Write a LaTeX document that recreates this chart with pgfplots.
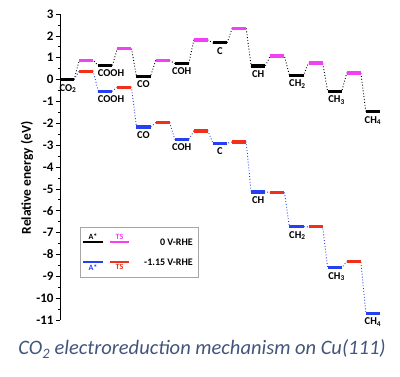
\documentclass[border=0pt]{standalone}
\usepackage{pgfplots}
\pgfplotsset{compat=1.18}
\usepackage{fontspec}
\setmainfont{Carlito}
\definecolor{tsPink}{HTML}{F440F4}
\definecolor{aBlue}{HTML}{2440F0}
\definecolor{tsRed}{HTML}{F03018}
\definecolor{capCol}{HTML}{42557A}
\newcommand{\lbl}{\bfseries\fontsize{10.5}{11}\selectfont}
\begin{document}
\begin{tikzpicture}[x=1pt,y=1pt]
\path (-60,-56) rectangle (340,320);
\begin{axis}[
  at={(0,0)}, anchor=south west,
  scale only axis, width=320pt, height=306pt,
  xmin=-0.37, xmax=16.37, ymin=-11, ymax=3,
  axis x line=none, axis y line*=left,
  y axis line style={-, line width=0.6pt},
  clip=false,
  ytick={-11,-10,-9,-8,-7,-6,-5,-4,-3,-2,-1,0,1,2,3},
  yticklabels={-11,-10,-9,-8,-7,-6,-5,-4,-3,-2,-1,0,1,2,3},
  minor y tick num=1,
  tick align=outside,
  major tick length=4pt, minor tick length=2pt,
  every tick/.style={black, line width=0.6pt},
  yticklabel style={font=\bfseries\fontsize{13}{13}\selectfont, xshift=1pt},
]
% dotted paths (each state at both ends of its bar)
\addplot[black, dotted, line width=0.9pt, mark=none] coordinates {
 (0.37,0) (0.63,0.87) (1.37,0.87) (1.63,0.64) (2.37,0.64) (2.63,1.42) (3.37,1.42)
 (3.63,0.15) (4.37,0.15) (4.63,0.87) (5.37,0.87) (5.63,0.74) (6.37,0.74) (6.63,1.81)
 (7.37,1.81) (7.63,1.68) (8.37,1.68) (8.63,2.33) (9.37,2.33) (9.63,0.62) (10.37,0.62)
 (10.63,1.08) (11.37,1.08) (11.63,0.20) (12.37,0.20) (12.63,0.76) (13.37,0.76)
 (13.63,-0.53) (14.37,-0.53) (14.63,0.30) (15.37,0.30) (15.63,-1.47)};
\addplot[aBlue, dotted, line width=0.9pt, mark=none] coordinates {
 (0.37,0) (0.63,0.38) (1.37,0.38) (1.63,-0.53) (2.37,-0.53) (2.63,-0.35) (3.37,-0.35)
 (3.63,-2.17) (4.37,-2.17) (4.63,-1.97) (5.37,-1.97) (5.63,-2.73) (6.37,-2.73) (6.63,-2.35)
 (7.37,-2.35) (7.63,-2.91) (8.37,-2.91) (8.63,-2.86) (9.37,-2.86) (9.63,-5.14) (10.37,-5.14)
 (10.63,-5.16) (11.37,-5.16) (11.63,-6.73) (12.37,-6.73) (12.63,-6.74) (13.37,-6.74)
 (13.63,-8.60) (14.37,-8.60) (14.63,-8.34) (15.37,-8.34) (15.63,-10.70)};
% level bars
\pgfplotsset{bar levels/.style={draw=none, mark=none, forget plot,
  error bars/.cd, x dir=both, x fixed=0.37, error mark=none,
  error bar style={line width=3.2pt, color=#1, solid}}}
\addplot[bar levels=aBlue] table {
x y
2 -0.53
4 -2.17
6 -2.73
8 -2.91
10 -5.14
12 -6.73
14 -8.60
16 -10.70
};
\addplot[bar levels=tsRed] table {
x y
1 0.38
3 -0.35
5 -1.97
7 -2.35
9 -2.86
11 -5.16
13 -6.74
15 -8.34
};
\addplot[bar levels=black] table {
x y
0 0
2 0.64
4 0.15
6 0.74
8 1.68
10 0.62
12 0.20
14 -0.53
16 -1.47
};
\addplot[bar levels=tsPink] table {
x y
1 0.87
3 1.42
5 0.87
7 1.81
9 2.33
11 1.08
13 0.76
15 0.30
};
% species labels (0 V path)
\begin{scope}[every node/.style={anchor=north, inner sep=0pt, font=\lbl}]
\node at (axis cs:0.05,-0.2) {CO\textsubscript{2}};
\node at (axis cs:2.3,0.45) {COOH};
\node at (axis cs:4,-0.05) {CO};
\node at (axis cs:6,0.54) {COH};
\node at (axis cs:8,1.48) {C};
\node at (axis cs:10,0.42) {CH};
\node at (axis cs:12.05,0.0) {CH\textsubscript{2}};
\node at (axis cs:14.1,-0.73) {CH\textsubscript{3}};
\node at (axis cs:16,-1.67) {CH\textsubscript{4}};
% -1.15 V path
\node at (axis cs:2.3,-0.73) {COOH};
\node at (axis cs:4,-2.37) {CO};
\node at (axis cs:6,-2.93) {COH};
\node at (axis cs:8,-3.11) {C};
\node at (axis cs:10,-5.34) {CH};
\node at (axis cs:12.05,-6.93) {CH\textsubscript{2}};
\node at (axis cs:14.1,-8.80) {CH\textsubscript{3}};
\node at (axis cs:16,-10.90) {CH\textsubscript{4}};
\end{scope}
\end{axis}
% y label
\node[rotate=90, font=\bfseries\fontsize{13.5}{14}\selectfont] at (-33,142) {Relative energy (eV)};
% legend box (pixel coordinates relative to axis origin: px-60, 320-py)
\draw[gray!70, line width=0.6pt] (20,43) rectangle (138,93);
\draw[black, line width=2pt] (23,78) -- (43,78);
\draw[tsPink, line width=2pt] (50,78) -- (69,78);
\draw[aBlue, line width=2pt] (23,58) -- (43,58);
\draw[tsRed, line width=2pt] (50,58) -- (69,58);
\node[font=\bfseries\fontsize{8}{8}\selectfont, anchor=south, inner sep=0pt] at (33,80.5) {A*};
\node[font=\bfseries\fontsize{8}{8}\selectfont, text=tsPink, anchor=south, inner sep=0pt] at (59.5,80.5) {TS};
\node[font=\bfseries\fontsize{8}{8}\selectfont, text=aBlue, anchor=north, inner sep=0pt] at (33,55.5) {A*};
\node[font=\bfseries\fontsize{8}{8}\selectfont, text=tsRed, anchor=north, inner sep=0pt] at (59.5,55.5) {TS};
\node[font=\bfseries\fontsize{10}{10}\selectfont, anchor=east, inner sep=0pt] at (133,78) {0 V-RHE};
\node[font=\bfseries\fontsize{10}{10}\selectfont, anchor=east, inner sep=0pt] at (133,58) {-1.15 V-RHE};
% caption
\node[font=\itshape\fontsize{20.5}{22}\selectfont, text=capCol] at (142,-29) {CO\textsubscript{2} electroreduction mechanism on Cu(111)};
\end{tikzpicture}
\end{document}
